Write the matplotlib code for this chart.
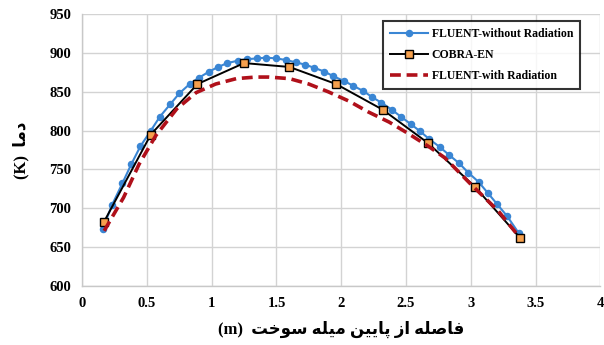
import numpy as np
import matplotlib
matplotlib.use("Agg")
import matplotlib.pyplot as plt
from matplotlib.ticker import MultipleLocator

# FLUENT without radiation (dense dotted series)
fluent_x = [0.16, 0.23, 0.31, 0.38, 0.45, 0.53, 0.60, 0.68, 0.75, 0.83,
            0.90, 0.98, 1.05, 1.12, 1.20, 1.27, 1.35, 1.42, 1.50, 1.57,
            1.65, 1.72, 1.79, 1.87, 1.94, 2.02, 2.09, 2.17, 2.24, 2.31,
            2.39, 2.46, 2.54, 2.61, 2.68, 2.76, 2.83, 2.91, 2.98, 3.06,
            3.13, 3.20, 3.28, 3.37]
fluent_T = [674, 704, 732, 757, 780, 800, 818, 834, 848, 860,
            868, 876, 882, 887, 890, 892, 893, 894, 893, 891,
            888, 885, 881, 876, 870, 864, 858, 851, 843, 836,
            827, 818, 808, 799, 789, 779, 769, 758, 746, 734,
            720, 706, 690, 668]

# COBRA-EN
cobra_x = [0.17, 0.53, 0.89, 1.25, 1.60, 1.96, 2.32, 2.67, 3.03, 3.38]
cobra_T = [683, 795, 860, 887, 882, 860, 827, 784, 728, 662]

# FLUENT with radiation
rad_x = [0.17, 0.25, 0.32, 0.44, 0.57, 0.73, 0.88, 1.03, 1.19, 1.34,
         1.44, 1.60, 1.75, 1.90, 2.06, 2.21, 2.37, 2.52, 2.68, 2.80,
         3.00, 3.21, 3.37]
rad_T = [671, 694, 714, 757, 794, 828, 849, 860, 867, 869,
         869, 867, 860, 850, 838, 824, 811, 796, 779, 765,
         731, 697, 664]

labels = ["FLUENT-without Radiation", "COBRA-EN", "FLUENT-with Radiation"]

# Persian labels written in shaped (presentation) forms, visual order
ylab = "(K)  \ufe8e\ufee3\ufea9"
xlab = ("(m)  "
        "\ufe96\ufea7\ufeee\ufeb3 "
        "\ufeea\ufee0\ufbff\ufee3 "
        "\ufee6\ufbff\ufbfe\ufe8e\ufb58 "
        "\ufeaf\ufe8d "
        "\ufeea\ufee0\ufebb\ufe8e\ufed3")

fam = ["Liberation Serif", "DejaVu Sans"]

fig = plt.figure(figsize=(6.04, 3.45), dpi=100)
ax = fig.add_axes([0.136, 0.171, 0.858, 0.788])

ax.plot(fluent_x, fluent_T, "-o", color="#3A86D4", lw=1.5, ms=4.4,
        label=labels[0], zorder=3)
ax.plot(cobra_x, cobra_T, "-s", color="black", lw=1.4, ms=6.2,
        mfc="#F6A04D", mec="black", mew=1.0, label=labels[1], zorder=4)
ax.plot(rad_x, rad_T, "--", color="#B0101A", lw=2.6, dashes=(3, 1.6),
        label=labels[2], zorder=5)

ax.set_xlim(0, 4)
ax.set_ylim(600, 950)
ax.yaxis.set_major_locator(MultipleLocator(50))
ax.set_xticks(np.arange(0, 4.01, 0.5))
ax.set_xticklabels(["0", "0.5", "1", "1.5", "2", "2.5", "3", "3.5", "4"])
ax.grid(True, color="#D3D3D3", lw=1.0)
ax.set_axisbelow(True)
for s in ["top", "right"]:
    ax.spines[s].set_visible(False)
for s in ["left", "bottom"]:
    ax.spines[s].set_color("#C8C8C8")
    ax.spines[s].set_linewidth(1.0)
ax.tick_params(length=0, pad=8)
for t in ax.get_xticklabels() + ax.get_yticklabels():
    t.set_fontfamily("Liberation Serif")
    t.set_fontweight("bold")
    t.set_fontsize(10.5)

ax.set_xlabel(xlab, family=fam, fontweight="bold", fontsize=12, labelpad=8)
ax.set_ylabel(ylab, family=fam, fontweight="bold", fontsize=12, labelpad=14)

leg = ax.legend(loc="upper left", bbox_to_anchor=(0.581, 0.975),
                prop={"family": "Liberation Serif", "weight": "bold", "size": 8.5},
                frameon=True, fancybox=False, handlelength=3.2,
                borderpad=0.6, labelspacing=0.75, handletextpad=0.3,
                borderaxespad=0)
leg.get_frame().set_edgecolor("black")
leg.get_frame().set_linewidth(1.5)

fig.savefig("out.png", dpi=100)
